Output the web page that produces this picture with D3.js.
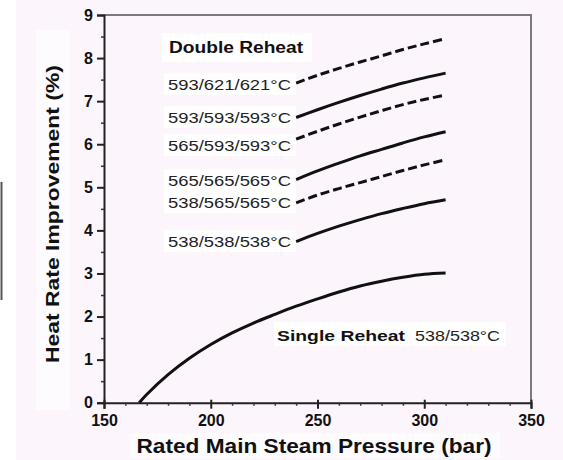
<!DOCTYPE html>
<html>
<head>
<meta charset="utf-8">
<script src="https://cdn.jsdelivr.net/npm/d3@7/dist/d3.min.js"></script>
<style>
  html, body { margin: 0; padding: 0; background: #ffffff; }
  svg { display: block; font-family: "Liberation Sans", Arial, sans-serif; }
</style>
</head>
<body>
<svg id="chart" width="563" height="460"></svg>
<script>
// Pressure grid shared by the double-reheat curves (bar)
const pressureDouble = [240, 250, 260, 270, 280, 290, 300, 310];

// Double-reheat steam conditions, heat rate improvement (%)
const double593_621_621 = [7.42, 7.60, 7.76, 7.91, 8.05, 8.20, 8.33, 8.45];
const double593_593_593 = [6.62, 6.80, 6.97, 7.13, 7.28, 7.42, 7.54, 7.65];
const double565_593_593 = [6.12, 6.30, 6.47, 6.63, 6.78, 6.92, 7.04, 7.14];
const double565_565_565 = [5.18, 5.38, 5.56, 5.73, 5.88, 6.03, 6.17, 6.29];
const double538_565_565 = [4.64, 4.82, 4.97, 5.11, 5.25, 5.39, 5.52, 5.64];
const double538_538_538 = [3.74, 3.93, 4.10, 4.25, 4.39, 4.51, 4.62, 4.71];

// Single reheat 538/538°C
const pressureSingle = [166.5, 170, 180, 190, 200, 210, 220, 230, 240, 250, 260, 270, 280, 290, 300, 310];
const valuesSingle   = [0, 0.19, 0.65, 1.03, 1.35, 1.62, 1.85, 2.05, 2.24, 2.41, 2.57, 2.71, 2.82, 2.91, 2.98, 3.01];

// Curve labels
const seriesLabels = ["593/621/621°C", "593/593/593°C", "565/593/593°C", "565/565/565°C", "538/565/565°C", "538/538/538°C"];
const seriesDashed = [true, false, true, false, true, false];
const seriesValues = [double593_621_621, double593_593_593, double565_593_593, double565_565_565, double538_565_565, double538_538_538];
const labelCenters = [84, 117, 145, 180, 202, 241];

// Axis ticks
const xTicks = [150, 200, 250, 300, 350];
const yTicks = [0, 1, 2, 3, 4, 5, 6, 7, 8, 9];
const yTickLabels = ["0", "1", "2", "3", "4", "5", "6", "7", "8", "9"];

const svg = d3.select("#chart");
const W = 563, H = 460;

const x = d3.scaleLinear().domain([150, 350]).range([104, 531]);
const y = d3.scaleLinear().domain([0, 9]).range([402.7, 15]);

// Backgrounds
svg.append("rect").attr("x", 16).attr("y", 0).attr("width", W - 16).attr("height", H).attr("fill", "#fcf5fc");
svg.append("rect").attr("x", 0).attr("y", 0).attr("width", 16).attr("height", H).attr("fill", "#ffffff");

// Stray bracket at the far left edge
svg.append("line").attr("x1", 1.5).attr("x2", 1.5).attr("y1", 182).attr("y2", 300)
  .attr("stroke", "#555").attr("stroke-width", 2);

// Plot frame (top and right in grey)
svg.append("path")
  .attr("d", `M${x(150)},${y(9)}H${x(350)}V${y(0)}`)
  .attr("fill", "none").attr("stroke", "#7a7a7a").attr("stroke-width", 2);

// Y axis
const yAxis = d3.axisLeft(y).tickValues(yTicks).tickFormat((d, i) => yTickLabels[i]).tickSize(7).tickPadding(4);
const gy = svg.append("g").attr("transform", `translate(${x(150)},0)`).call(yAxis);
gy.select(".domain").attr("stroke", "#222").attr("stroke-width", 2);
gy.selectAll(".tick line").attr("stroke", "#222").attr("stroke-width", 2);
gy.selectAll(".tick text").attr("font-size", 16).attr("font-weight", "bold").attr("fill", "#111")
  .attr("font-family", "'Liberation Sans', Arial, sans-serif");
// minor y ticks
const gyMinor = svg.append("g").attr("transform", `translate(${x(150)},0)`)
  .call(d3.axisLeft(y).tickValues(d3.range(0.5, 9, 1)).tickSize(3).tickFormat(""));
gyMinor.select(".domain").remove();
gyMinor.selectAll(".tick line").attr("stroke", "#333").attr("stroke-width", 1.5);

// X axis
const xAxis = d3.axisBottom(x).tickValues(xTicks).tickFormat(d3.format("d")).tickSize(6).tickPadding(6);
const gx = svg.append("g").attr("transform", `translate(0,${y(0)})`).call(xAxis);
gx.select(".domain").attr("stroke", "#222").attr("stroke-width", 2);
gx.selectAll(".tick line").attr("stroke", "#222").attr("stroke-width", 2).attr("y1", -3);
gx.selectAll(".tick text").attr("font-size", 16).attr("font-weight", "bold").attr("fill", "#111")
  .attr("font-family", "'Liberation Sans', Arial, sans-serif");
const minorX = d3.range(160, 350, 10).filter(v => v % 50 !== 0);
const gxMinor = svg.append("g").attr("transform", `translate(0,${y(0)})`)
  .call(d3.axisBottom(x).tickValues(minorX).tickSize(3).tickFormat(""));
gxMinor.select(".domain").remove();
gxMinor.selectAll(".tick line").attr("stroke", "#333").attr("stroke-width", 1.5);

// Axis titles on white boxes
svg.append("rect").attr("x", 36).attr("y", 30).attr("width", 34).attr("height", 380).attr("fill", "#fefbfe");
svg.append("text")
  .attr("transform", `translate(59,${214}) rotate(-90)`)
  .attr("text-anchor", "middle")
  .attr("font-size", 19).attr("font-weight", "bold").attr("fill", "#111")
  .attr("textLength", 298).attr("lengthAdjust", "spacingAndGlyphs")
  .text("Heat Rate Improvement (%)");

svg.append("rect").attr("x", 130).attr("y", 433).attr("width", 370).attr("height", 25).attr("fill", "#fefbfe");
svg.append("text")
  .attr("x", 314).attr("y", 453)
  .attr("text-anchor", "middle")
  .attr("font-size", 20).attr("font-weight", "bold").attr("fill", "#111")
  .attr("textLength", 355).attr("lengthAdjust", "spacingAndGlyphs")
  .text("Rated Main Steam Pressure (bar)");

// Curve labels
svg.append("rect").attr("x", 162).attr("y", 33).attr("width", 150).attr("height", 29).attr("fill", "#ffffff");
svg.append("text")
  .attr("x", 169).attr("y", 53)
  .attr("font-size", 16).attr("font-weight", "bold").attr("fill", "#111")
  .attr("textLength", 134).attr("lengthAdjust", "spacingAndGlyphs")
  .text("Double Reheat");

seriesLabels.forEach((lab, i) => {
  const cy = labelCenters[i];
  svg.append("rect").attr("x", 164).attr("y", cy - 11).attr("width", 132).attr("height", 22).attr("fill", "#ffffff");
  svg.append("text")
    .attr("x", 168).attr("y", cy + 6)
    .attr("font-size", 15).attr("fill", "#222")
    .attr("textLength", 123).attr("lengthAdjust", "spacingAndGlyphs")
    .text(lab);
});

svg.append("rect").attr("x", 274).attr("y", 322).attr("width", 232).attr("height", 24).attr("fill", "#ffffff");
svg.append("text")
  .attr("x", 277).attr("y", 341)
  .attr("font-size", 15).attr("font-weight", "bold").attr("fill", "#111")
  .attr("textLength", 128).attr("lengthAdjust", "spacingAndGlyphs")
  .text("Single Reheat");
svg.append("text")
  .attr("x", 415).attr("y", 341)
  .attr("font-size", 15).attr("fill", "#222")
  .attr("textLength", 85).attr("lengthAdjust", "spacingAndGlyphs")
  .text("538/538°C");

// Curves
const line = d3.line().x(d => x(d[0])).y(d => y(d[1])).curve(d3.curveCatmullRom.alpha(0.5));

seriesValues.forEach((vals, i) => {
  svg.append("path")
    .datum(pressureDouble.map((p, j) => [p, vals[j]]))
    .attr("d", line)
    .attr("fill", "none")
    .attr("stroke", "#111")
    .attr("stroke-width", 3)
    .attr("stroke-dasharray", seriesDashed[i] ? "9,4" : null);
});

svg.append("path")
  .datum(pressureSingle.map((p, j) => [p, valuesSingle[j]]))
  .attr("d", line)
  .attr("fill", "none")
  .attr("stroke", "#111")
  .attr("stroke-width", 3);
</script>
</body>
</html>
